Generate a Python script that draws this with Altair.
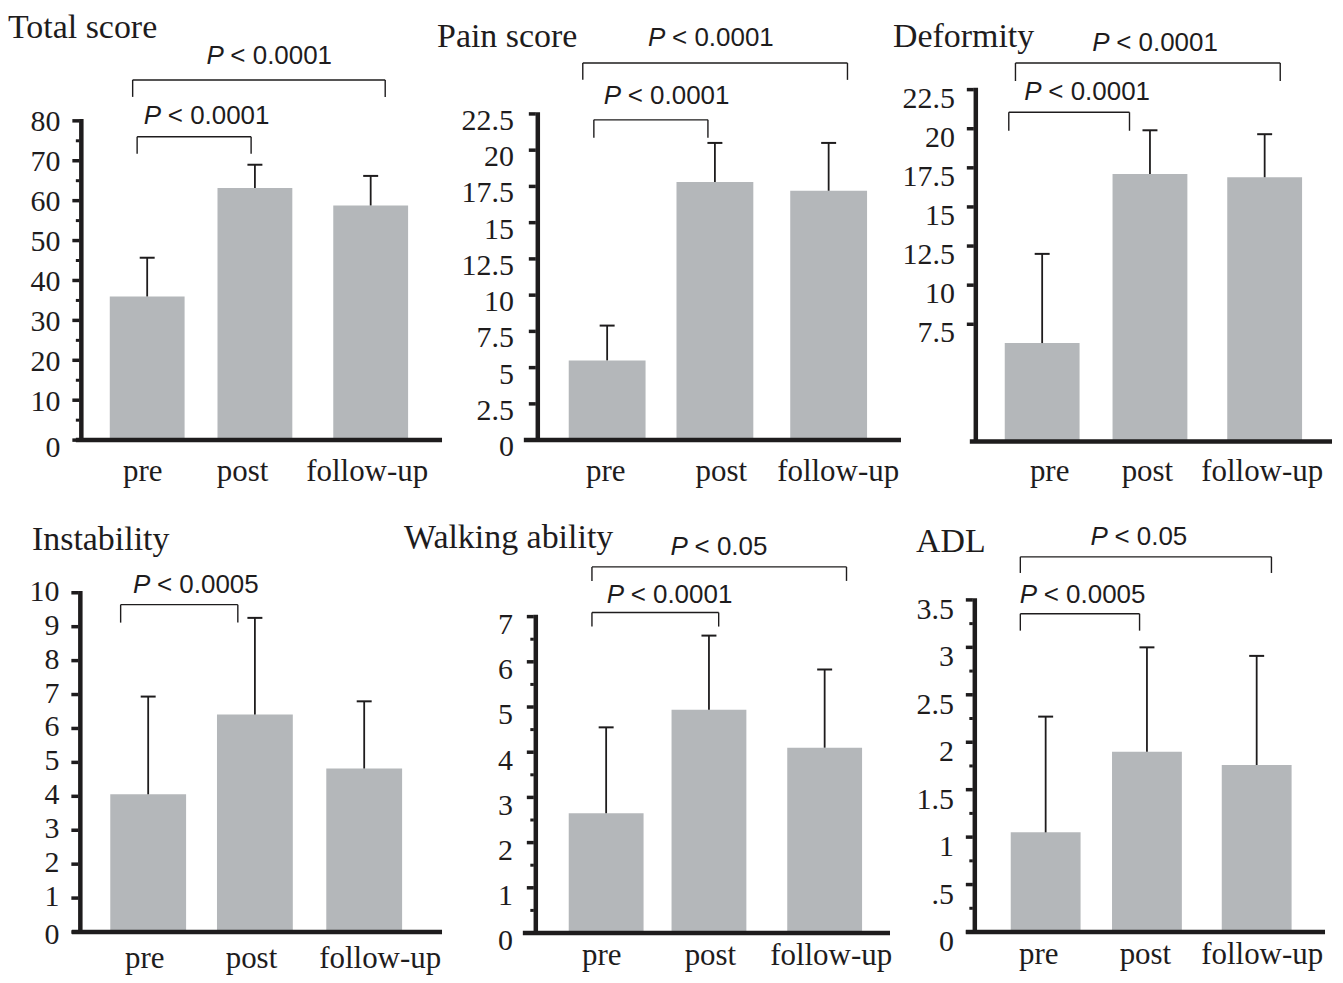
import altair as alt
import pandas as pd

categories = ["pre", "post", "follow-up"]

titles = ["Total score", "Pain score", "Deformity", "Instability", "Walking ability", "ADL"]

# means and standard deviations (upper error bar = mean + sd)
total_mean = [36.0, 63.2, 58.8]
total_sd = [9.7, 5.8, 7.4]
pain_mean = [5.5, 17.8, 17.2]
pain_sd = [2.4, 2.7, 3.3]
deform_mean = [6.3, 17.1, 16.9]
deform_sd = [5.7, 2.8, 2.75]
instab_mean = [4.06, 6.41, 4.82]
instab_sd = [2.88, 2.85, 1.98]
walk_mean = [2.65, 4.94, 4.10]
walk_sd = [1.90, 1.64, 1.73]
adl_mean = [1.05, 1.90, 1.76]
adl_sd = [1.22, 1.10, 1.15]

# axis ticks
total_ticks = [0, 10, 20, 30, 40, 50, 60, 70, 80]
total_minor = [5, 15, 25, 35, 45, 55, 65, 75]
pain_ticks = [0, 2.5, 5, 7.5, 10, 12.5, 15, 17.5, 20, 22.5]
pain_minor = []
deform_ticks = [7.5, 10, 12.5, 15, 17.5, 20, 22.5]
deform_minor = []
instab_ticks = [0, 1, 2, 3, 4, 5, 6, 7, 8, 9, 10]
instab_minor = []
walk_ticks = [0, 1, 2, 3, 4, 5, 6, 7]
walk_minor = [0.5, 1.5, 2.5, 3.5, 4.5, 5.5, 6.5]
adl_ticks = [0, 0.5, 1, 1.5, 2, 2.5, 3, 3.5]
adl_minor = [0.25, 0.75, 1.25, 1.75, 2.25, 2.75, 3.25]

# significance brackets: left end, right end (category units), level, drop (data units),
# label left (category units), label baseline (data units), text after the italic P
total_brackets = [(-0.09, 0.93, 76.0, 4.25, -0.03, 79.25, "< 0.0001"),
                  (-0.13, 2.13, 90.25, 4.25, 0.53, 94.25, "< 0.0001")]
pain_brackets = [(-0.12, 0.91, 22.09, 1.24, -0.03, 23.19, "< 0.0001"),
                 (-0.22, 2.17, 26.01, 1.16, 0.37, 27.19, "< 0.0001")]
deform_brackets = [(-0.30, 0.785, 21.05, 1.18, -0.16, 21.84, "< 0.0001"),
                   (-0.24, 2.14, 24.20, 1.15, 0.45, 24.97, "< 0.0001")]
instab_brackets = [(-0.255, 0.83, 9.65, 0.53, -0.14, 10.0, "< 0.0005")]
walk_brackets = [(-0.13, 1.03, 7.09, 0.31, 0.005, 7.31, "< 0.0001"),
                 (-0.13, 2.20, 8.10, 0.31, 0.59, 8.37, "< 0.05")]
adl_brackets = [(-0.24, 0.89, 3.354, 0.178, -0.245, 3.47, "< 0.0005"),
                (-0.24, 2.14, 3.954, 0.17, 0.425, 4.08, "< 0.05")]

# page layout of each panel (pixels); "pos" = bar positions in category units
layouts = [
    dict(ox=8, oy=8, W=442, H=487, c0=147.5, step=112, pos=[0, 0.964, 2], base=440, unit=4.0,
         axis_x=81.5, xline=(76, 443), title=(8, 37), xdy=41, labx=[143, 243, 368],
         bar_px=75, lab_off=1.5, zero_off=8, lpad=12),
    dict(ox=450, oy=8, W=455, H=487, c0=608.5, step=111, pos=[0, 0.973, 2], base=440, unit=14.53,
         axis_x=539, xline=(525, 903), title=(438, 46), xdy=41, labx=[607, 723, 840],
         bar_px=77, lab_off=7, zero_off=7, lpad=15),
    dict(ox=905, oy=8, W=430, H=487, c0=1044.5, step=111.5, pos=[0, 0.969, 2], base=441.5,
         unit=15.68, axis_x=978, xline=(972, 1335), title=(895, 46), xdy=39,
         labx=[1052, 1150, 1265], bar_px=75, lab_off=9, zero_off=9, lpad=12),
    dict(ox=8, oy=495, W=442, H=480, c0=148.5, step=108.25, pos=[0, 0.988, 2], base=933, unit=34.0,
         axis_x=80.5, xline=(72, 443), title=(32, 550), xdy=36, labx=[145, 252, 381],
         bar_px=76, lab_off=-1, zero_off=3, lpad=12),
    dict(ox=450, oy=495, W=455, H=480, c0=607.5, step=109.5, pos=[0, 0.941, 2], base=934, unit=45.3,
         axis_x=537, xline=(524, 892), title=(405, 548), xdy=32, labx=[603, 712, 833],
         bar_px=75, lab_off=8.5, zero_off=8.5, lpad=14),
    dict(ox=905, oy=495, W=430, H=480, c0=1048, step=105.75, pos=[0, 0.960, 2], base=933, unit=95.1,
         axis_x=977, xline=(968, 1328), title=(918, 552), xdy=32, labx=[1041, 1148, 1265],
         bar_px=70, lab_off=10, zero_off=10, lpad=12),
]

SERIF = "Liberation Serif"
SANS = "Liberation Sans"
INK = "#1e1c1d"
BAR = "#b4b7ba"
TICK_LEN = 7


def tick_text(v, dot_half=False):
    if dot_half and v == 0.5:
        return ".5"
    return f"{v:g}"


def make_panel(title, mean, sd, ticks, minor, brackets, L, dot_half=False):
    ox, oy, W, H = L["ox"], L["oy"], L["W"], L["H"]
    c0, s, base, u = L["c0"], L["step"], L["base"], L["unit"]

    def px2x(px):
        return (px - c0) / s

    xs = alt.Scale(domain=[px2x(ox), px2x(ox + W)], nice=False, zero=False)
    ys = alt.Scale(domain=[(base - (oy + H)) / u, (base - oy) / u], nice=False, zero=False)

    def X(f):
        return alt.X(f, type="quantitative", scale=xs, axis=None)

    def Y(f):
        return alt.Y(f, type="quantitative", scale=ys, axis=None)

    hw = L["bar_px"] / 2 / s
    cap = 7.5 / s
    df = pd.DataFrame({"cat": categories, "idx": L["pos"], "mean": mean,
                       "top": [m + d for m, d in zip(mean, sd)]})
    df["xl"] = df["idx"] - hw
    df["xr"] = df["idx"] + hw
    df["cl"] = df["idx"] - cap
    df["cr"] = df["idx"] + cap
    df["zero"] = 0.0
    df["lx"] = [px2x(p) for p in L["labx"]]

    axis_pos = L["axis_x"] - 2

    bars = alt.Chart(df).mark_bar(color=BAR).encode(
        x=X("xl"), x2="xr", y=Y("zero"), y2="mean")
    stems = alt.Chart(df).mark_rule(color=INK, strokeWidth=1.8).encode(
        x=X("idx"), y=Y("mean"), y2="top")
    caps = alt.Chart(df).mark_rule(color=INK, strokeWidth=2).encode(
        x=X("cl"), x2="cr", y=Y("top"))

    ax_df = pd.DataFrame({"x": [px2x(L["axis_x"])], "y": [0.0],
                          "y2": [ticks[-1] + 1.75 / u]})
    yline = alt.Chart(ax_df).mark_rule(color=INK, strokeWidth=4.5).encode(
        x=X("x"), y=Y("y"), y2="y2")
    xl_df = pd.DataFrame({"x": [px2x(L["xline"][0])], "x2": [px2x(L["xline"][1])], "y": [0.0]})
    xline = alt.Chart(xl_df).mark_rule(color=INK, strokeWidth=4.5).encode(
        x=X("x"), x2="x2", y=Y("y"))

    # major ticks and their labels
    tdf = pd.DataFrame({"v": ticks,
                        "x": px2x(axis_pos - TICK_LEN), "x2": px2x(axis_pos),
                        "lab": [tick_text(v, dot_half) for v in ticks]})
    major = alt.Chart(tdf).mark_rule(color=INK, strokeWidth=3.5).encode(
        x=X("x"), x2="x2", y=Y("v"))
    layers = [bars, stems, caps, yline, xline, major]
    for sub, off in ((tdf[tdf["v"] != 0], L["lab_off"]), (tdf[tdf["v"] == 0], L["zero_off"])):
        if len(sub):
            layers.append(alt.Chart(sub).mark_text(
                font=SERIF, fontSize=30, align="right", baseline="middle",
                dx=-L["lpad"], dy=off, color=INK).encode(
                x=X("x"), y=Y("v"), text=alt.Text("lab:N")))

    if minor:
        mdf = pd.DataFrame({"y": minor, "x": px2x(axis_pos - 3.5), "x2": px2x(axis_pos)})
        layers.append(alt.Chart(mdf).mark_rule(color=INK, strokeWidth=3).encode(
            x=X("x"), x2="x2", y=Y("y")))

    segs = []
    for (a, b, lvl, drop, lx, ly, txt) in brackets:
        segs.append((a, b, lvl, lvl))
        segs.append((a, a, lvl, lvl - drop))
        segs.append((b, b, lvl, lvl - drop))
    bdf = pd.DataFrame(segs, columns=["x", "x2", "y", "y2"])
    layers.append(alt.Chart(bdf).mark_rule(color=INK, strokeWidth=1.4).encode(
        x=X("x"), x2="x2", y=Y("y"), y2="y2"))

    ldf = pd.DataFrame([(lx, ly, txt) for (_, _, _, _, lx, ly, txt) in brackets],
                       columns=["x", "y", "rest"])
    layers.append(alt.Chart(ldf).mark_text(
        font=SANS, fontStyle="italic", fontSize=26, align="left", baseline="alphabetic",
        color=INK).encode(x=X("x"), y=Y("y"), text=alt.value("P")))
    layers.append(alt.Chart(ldf).mark_text(
        font=SANS, fontSize=26, align="left", baseline="alphabetic", dx=24,
        color=INK).encode(x=X("x"), y=Y("y"), text=alt.Text("rest:N")))

    layers.append(alt.Chart(df).mark_text(
        font=SERIF, fontSize=31, align="center", baseline="alphabetic", dy=L["xdy"],
        color=INK).encode(x=X("lx"), y=Y("zero"), text=alt.Text("cat:N")))

    ttl = pd.DataFrame({"t": [title]})
    layers.append(alt.Chart(ttl).mark_text(
        font=SERIF, fontSize=34, align="left", baseline="alphabetic", color=INK).encode(
        x=alt.value(L["title"][0] - ox), y=alt.value(L["title"][1] - oy),
        text=alt.Text("t:N")))

    return alt.layer(*layers).properties(width=W, height=H)


p1 = make_panel(titles[0], total_mean, total_sd, total_ticks, total_minor, total_brackets, layouts[0])
p2 = make_panel(titles[1], pain_mean, pain_sd, pain_ticks, pain_minor, pain_brackets, layouts[1])
p3 = make_panel(titles[2], deform_mean, deform_sd, deform_ticks, deform_minor, deform_brackets, layouts[2])
p4 = make_panel(titles[3], instab_mean, instab_sd, instab_ticks, instab_minor, instab_brackets, layouts[3])
p5 = make_panel(titles[4], walk_mean, walk_sd, walk_ticks, walk_minor, walk_brackets, layouts[4])
p6 = make_panel(titles[5], adl_mean, adl_sd, adl_ticks, adl_minor, adl_brackets, layouts[5],
                dot_half=True)

chart = alt.concat(p1, p2, p3, p4, p5, p6, columns=3, spacing=0, bounds="flush").properties(
    padding=0, background="white"
).configure_view(strokeWidth=0)

chart.save("out.html", embed_options={"renderer": "svg", "actions": False})
